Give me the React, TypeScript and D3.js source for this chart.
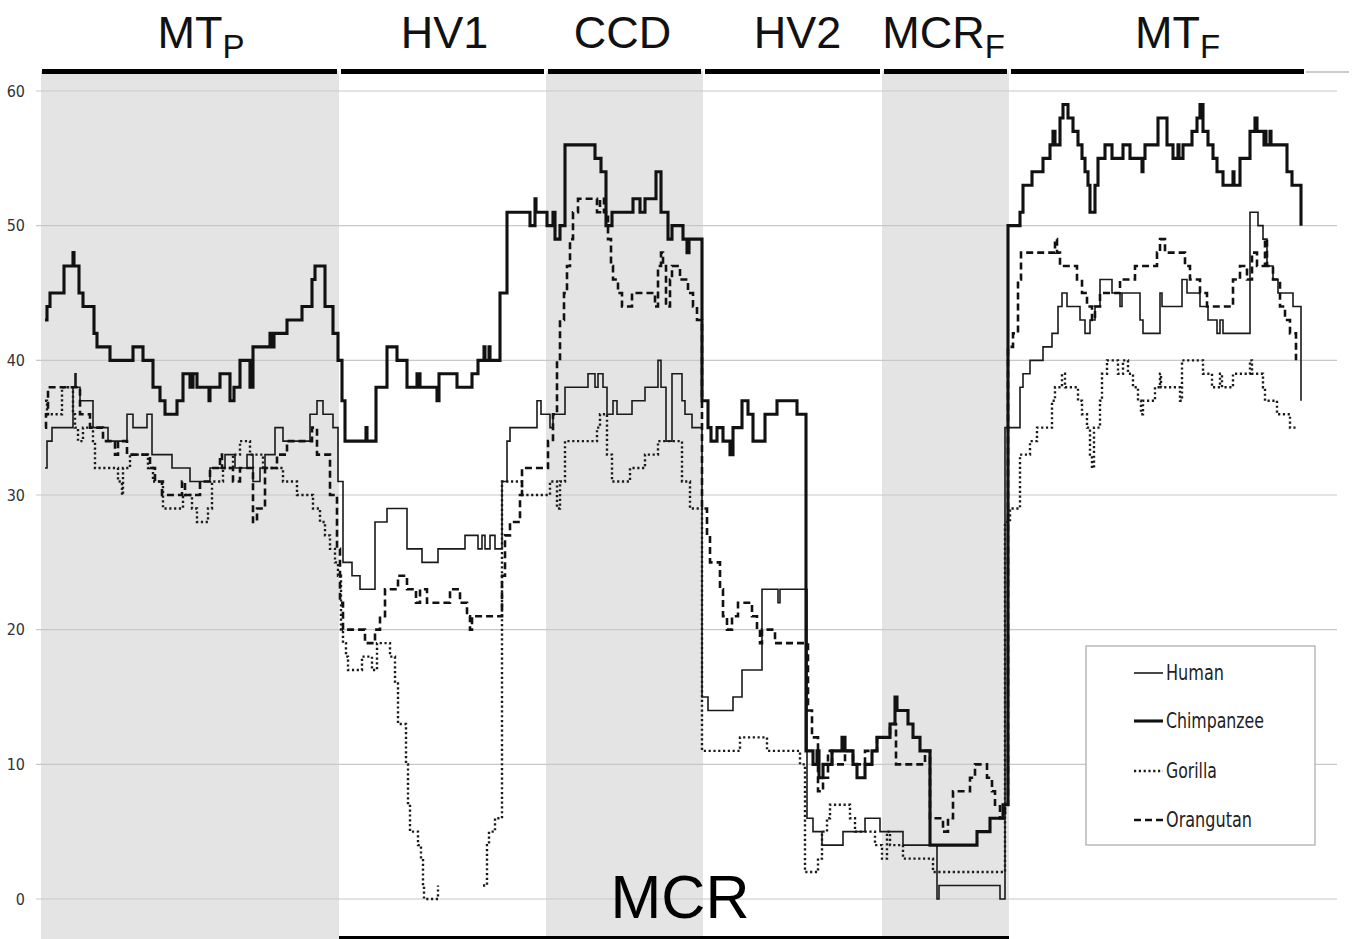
import React from 'react';
import * as d3 from 'd3';

const W = 1355;
const H = 939;

// Regions of the mitochondrial alignment (column positions)
const regionNames = ['MT', 'HV1', 'CCD', 'HV2', 'MCR', 'MT'];
const regionSubs = ['P', '', '', '', 'F', 'F'];
const regionBounds = [41, 339, 546, 703, 882, 1009, 1306];
const regionShaded = [true, false, true, false, true, false];
const labelShift = [11, 2, -2, 5, -2, 20];

const yTicks = [0, 10, 20, 30, 40, 50, 60];

const seriesNames = ['Human', 'Chimpanzee', 'Gorilla', 'Orangutan'];

type P = [number, number | null];

const human: P[] = [
  [45, 32], [47, 34], [52, 35], [73, 38], [75, 39], [76, 38], [80, 37], [93, 35], [108, 34], [127, 36],
  [133, 35], [147, 36], [152, 33], [172, 32], [190, 31], [210, 32], [225, 33], [235, 32], [247, 33],
  [253, 31], [260, 32], [265, 33], [275, 35], [283, 34], [310, 36], [317, 37], [323, 36], [333, 35],
  [338, 31], [343, 25], [352, 24], [360, 23], [375, 28], [387, 29], [407, 26], [422, 25], [438, 26],
  [465, 27], [478, 26], [482, 27], [485, 26], [490, 27], [495, 26], [502, 31], [507, 34], [510, 35],
  [537, 37], [541, 36], [550, 35], [553, 36], [565, 38], [588, 39], [595, 38], [598, 39], [603, 38],
  [607, 36], [613, 37], [617, 36], [632, 37], [645, 38], [658, 40], [661, 38], [666, 34], [672, 39],
  [682, 37], [685, 36], [692, 35], [702, 15], [708, 14], [733, 15], [742, 17], [762, 23], [778, 22],
  [780, 23], [807, 6], [813, 5], [822, 4], [843, 5], [865, 6], [880, 5], [903, 4], [937, 0], [939, 1],
  [1000, 0], [1005, 35], [1020, 38], [1023, 39], [1030, 40], [1043, 41], [1052, 42], [1058, 44],
  [1062, 45], [1067, 44], [1080, 43], [1085, 42], [1090, 43], [1095, 44], [1100, 46], [1112, 45],
  [1120, 44], [1122, 45], [1140, 43], [1143, 42], [1160, 45], [1162, 44], [1182, 46], [1187, 45],
  [1200, 44], [1208, 43], [1217, 42], [1220, 43], [1223, 42], [1250, 51], [1258, 50], [1263, 49],
  [1267, 47], [1273, 46], [1278, 45], [1293, 44], [1301, 37],
];

const chimpanzee: P[] = [
  [45, 43], [47, 44], [50, 45], [64, 47], [73, 48], [74, 47], [79, 45], [83, 44], [94, 42], [97, 41],
  [110, 40], [133, 41], [143, 40], [153, 38], [160, 37], [165, 36], [177, 37], [183, 39], [190, 38],
  [193, 39], [197, 38], [209, 37], [210, 38], [220, 39], [230, 37], [234, 38], [240, 40], [250, 38],
  [253, 41], [270, 42], [272, 41], [274, 42], [287, 43], [302, 44], [312, 46], [315, 47], [325, 44],
  [333, 42], [338, 40], [342, 37], [345, 34], [366, 35], [367, 34], [376, 38], [387, 41], [397, 40],
  [407, 38], [417, 39], [420, 38], [437, 37], [439, 39], [457, 38], [472, 39], [478, 40], [484, 41],
  [485, 40], [489, 41], [490, 40], [500, 45], [507, 51], [530, 50], [535, 52], [536, 51], [547, 50],
  [553, 51], [555, 49], [560, 50], [565, 56], [595, 55], [601, 54], [606, 50], [612, 51], [633, 52],
  [640, 51], [645, 52], [656, 54], [661, 51], [668, 49], [672, 50], [683, 49], [687, 48], [689, 49],
  [702, 37], [708, 35], [711, 34], [717, 35], [723, 34], [730, 33], [733, 35], [742, 37], [748, 36],
  [753, 34], [765, 36], [777, 37], [797, 36], [806, 11], [813, 10], [817, 11], [819, 9], [823, 10],
  [832, 11], [842, 12], [845, 11], [853, 10], [857, 9], [865, 10], [872, 11], [877, 12], [890, 13],
  [895, 15], [897, 14], [908, 13], [913, 12], [920, 11], [930, 4], [977, 5], [990, 6], [1003, 7],
  [1008, 50], [1020, 51], [1023, 53], [1032, 54], [1043, 55], [1050, 56], [1053, 57], [1055, 56],
  [1060, 58], [1063, 59], [1068, 58], [1073, 57], [1078, 56], [1082, 55], [1085, 54], [1088, 53],
  [1090, 51], [1095, 53], [1098, 55], [1105, 56], [1112, 55], [1123, 56], [1130, 55], [1142, 54],
  [1143, 55], [1145, 56], [1158, 58], [1167, 56], [1173, 55], [1178, 56], [1179, 55], [1183, 56],
  [1192, 57], [1197, 58], [1200, 59], [1203, 57], [1208, 56], [1213, 55], [1217, 54], [1223, 53],
  [1233, 54], [1234, 53], [1240, 55], [1250, 57], [1255, 58], [1257, 57], [1264, 56], [1265, 57],
  [1266, 56], [1270, 57], [1271, 56], [1287, 54], [1292, 53], [1301, 50],
];

const gorilla: P[] = [
  [45, 37], [47, 36], [62, 38], [73, 36], [75, 35], [78, 34], [83, 35], [93, 34], [95, 32], [118, 31],
  [122, 30], [123, 32], [130, 33], [148, 32], [153, 31], [163, 29], [183, 30], [192, 29], [197, 28],
  [208, 29], [212, 31], [223, 32], [233, 33], [240, 34], [250, 33], [263, 32], [283, 31], [297, 30],
  [313, 29], [320, 28], [325, 27], [330, 26], [335, 25], [338, 24], [341, 20], [343, 19], [346, 18],
  [348, 17], [362, 18], [372, 17], [377, 19], [390, 18], [395, 16], [398, 13], [406, 10], [408, 7],
  [410, 5], [418, 4], [421, 3], [423, 1], [424, 0], [438, 1], [440, null], [483, 1], [487, 4],
  [489, 5], [495, 6], [502, 31], [522, 30], [550, 31], [557, 29], [560, 31], [565, 34], [597, 35],
  [600, 36], [607, 33], [612, 31], [630, 32], [645, 33], [658, 34], [682, 31], [690, 29], [702, 11],
  [740, 12], [767, 11], [800, 10], [805, 2], [818, 3], [822, 5], [827, 6], [830, 7], [850, 6],
  [855, 5], [875, 4], [882, 3], [887, 5], [890, 4], [903, 3], [933, 2], [1003, 2], [1005, 28],
  [1010, 29], [1020, 33], [1030, 34], [1037, 35], [1052, 37], [1055, 38], [1062, 39], [1065, 38],
  [1078, 37], [1082, 36], [1087, 35], [1090, 33], [1092, 32], [1094, 35], [1100, 37], [1102, 39],
  [1107, 40], [1118, 39], [1123, 40], [1128, 39], [1133, 38], [1138, 37], [1141, 36], [1143, 37],
  [1155, 38], [1160, 39], [1161, 38], [1180, 37], [1182, 40], [1203, 39], [1212, 38], [1220, 39],
  [1222, 38], [1233, 39], [1250, 40], [1252, 39], [1263, 38], [1265, 37], [1277, 36], [1290, 35],
  [1298, 35],
];

const orangutan: P[] = [
  [45, 35], [46, 36], [48, 38], [80, 36], [90, 35], [103, 34], [115, 33], [118, 34], [127, 33],
  [150, 32], [155, 31], [162, 30], [182, 31], [185, 30], [200, 31], [210, 32], [220, 33], [222, 32],
  [233, 31], [240, 32], [253, 28], [257, 29], [265, 32], [277, 33], [287, 34], [312, 35], [317, 33],
  [330, 30], [337, 26], [340, 22], [343, 20], [365, 19], [375, 20], [380, 21], [385, 23], [398, 24],
  [407, 23], [416, 22], [420, 23], [427, 22], [450, 23], [460, 22], [467, 21], [470, 20], [472, 21],
  [502, 24], [505, 27], [510, 28], [520, 30], [522, 32], [548, 34], [553, 36], [557, 40], [560, 43],
  [564, 45], [567, 47], [570, 49], [573, 51], [578, 52], [597, 51], [600, 52], [604, 51], [608, 49],
  [611, 47], [613, 46], [618, 45], [622, 44], [632, 45], [655, 44], [658, 47], [661, 48], [663, 47],
  [666, 44], [670, 46], [672, 47], [680, 46], [688, 45], [693, 44], [697, 43], [702, 29], [707, 27],
  [710, 25], [720, 23], [723, 21], [727, 20], [732, 21], [738, 22], [752, 21], [757, 20], [760, 19],
  [762, 20], [775, 19], [808, 14], [812, 12], [818, 8], [823, 9], [828, 11], [832, 10], [845, 11],
  [853, 10], [865, 11], [877, 12], [890, 13], [896, 10], [925, 11], [930, 6], [943, 5], [948, 6],
  [953, 8], [970, 9], [975, 10], [987, 9], [992, 8], [995, 7], [1000, 6], [1005, 7], [1008, 41],
  [1013, 42], [1018, 46], [1021, 48], [1055, 49], [1057, 48], [1060, 47], [1077, 46], [1082, 45],
  [1087, 44], [1092, 43], [1095, 44], [1100, 45], [1120, 46], [1135, 47], [1157, 48], [1160, 49],
  [1165, 48], [1185, 47], [1190, 46], [1200, 45], [1207, 44], [1233, 46], [1240, 47], [1247, 46],
  [1252, 48], [1257, 47], [1265, 49], [1267, 47], [1273, 46], [1280, 44], [1285, 43], [1290, 42],
  [1296, 40],
];

const seriesData = [human, chimpanzee, gorilla, orangutan];
const seriesStyle = [
  { width: 1.6, dash: '', color: '#1a1a1a' },
  { width: 3.1, dash: '', color: '#111' },
  { width: 2.4, dash: '2.2,2.6', color: '#1a1a1a' },
  { width: 2.6, dash: '7,4', color: '#111' },
];

export default function App() {
  const x = d3.scaleLinear().domain([41, 1306]).range([41, 1306]);
  const y = d3.scaleLinear().domain([0, 60]).range([899, 91]);
  const line = d3
    .line<P>()
    .defined((d) => d[1] != null)
    .x((d) => x(d[0]))
    .y((d) => y(d[1] as number))
    .curve(d3.curveStepAfter);

  const font = '"Liberation Sans", Arial, sans-serif';
  const condensed = '"DejaVu Sans Condensed", "Liberation Sans Narrow", sans-serif';

  const legendX = 1086;
  const legendY = 646;
  const legendRows = [673, 721, 771, 820];
  const legendTextLen = [58, 98, 51, 86];

  return (
    <svg width={W} height={H} style={{ position: 'absolute', left: 0, top: 0, background: '#fff' }}>
      {/* shaded regions */}
      {regionShaded.map((s, i) =>
        s ? (
          <rect
            key={'band' + i}
            x={x(regionBounds[i])}
            y={71}
            width={x(regionBounds[i + 1]) - x(regionBounds[i])}
            height={H - 71}
            fill="#e4e4e4"
          />
        ) : null
      )}
      {/* gridlines */}
      {yTicks.map((t) => (
        <line key={'g' + t} x1={36} x2={1337} y1={y(t)} y2={y(t)} stroke="#c8c8c8" strokeWidth={1.2} />
      ))}
      {/* tick labels */}
      {yTicks.map((t) => (
        <text
          key={'t' + t}
          x={25}
          y={y(t)}
          textAnchor="end"
          dominantBaseline="central"
          fontFamily={condensed}
          fontSize={16}
          fill="#333"
        >
          {t}
        </text>
      ))}
      {/* top bars */}
      <line x1={1306} x2={1349} y1={72} y2={72} stroke="#999" strokeWidth={1.2} />
      {regionNames.map((_, i) => (
        <rect
          key={'bar' + i}
          x={x(regionBounds[i]) + (i === 0 ? 1 : 2)}
          y={69}
          width={x(regionBounds[i + 1]) - x(regionBounds[i]) - (i === 0 ? 3 : 4)}
          height={5}
          fill="#000"
        />
      ))}
      {/* region labels */}
      {regionNames.map((n, i) => (
        <text
          key={'lab' + i}
          x={(x(regionBounds[i]) + x(regionBounds[i + 1])) / 2 + labelShift[i]}
          y={48}
          textAnchor="middle"
          fontFamily={font}
          fontSize={45}
          fill="#111"
        >
          {n}
          {regionSubs[i] ? (
            <tspan fontSize={33} dy={10}>
              {regionSubs[i]}
            </tspan>
          ) : null}
        </text>
      ))}
      {/* series */}
      {seriesData.map((d, i) => (
        <path
          key={'s' + i}
          d={line(d) || ''}
          fill="none"
          stroke={seriesStyle[i].color}
          strokeWidth={seriesStyle[i].width}
          strokeDasharray={seriesStyle[i].dash || undefined}
          strokeLinejoin="miter"
        />
      ))}
      {/* bottom MCR */}
      <line x1={x(regionBounds[1])} x2={x(regionBounds[5])} y1={937.5} y2={937.5} stroke="#000" strokeWidth={3} />
      <text x={680} y={918} textAnchor="middle" fontFamily={font} fontSize={61} fill="#000">
        MCR
      </text>
      {/* legend */}
      <rect x={legendX} y={legendY} width={229} height={199} fill="#fff" stroke="#a8a8a8" strokeWidth={1.2} />
      {seriesNames.map((n, i) => (
        <g key={'leg' + i}>
          <line
            x1={1134}
            x2={1163}
            y1={legendRows[i]}
            y2={legendRows[i]}
            stroke={seriesStyle[i].color}
            strokeWidth={seriesStyle[i].width}
            strokeDasharray={seriesStyle[i].dash || undefined}
          />
          <text
            x={1166}
            y={legendRows[i]}
            dominantBaseline="central"
            fontFamily={condensed}
            fontSize={21}
            textLength={legendTextLen[i]}
            lengthAdjust="spacingAndGlyphs"
            fill="#222"
          >
            {n}
          </text>
        </g>
      ))}
    </svg>
  );
}
